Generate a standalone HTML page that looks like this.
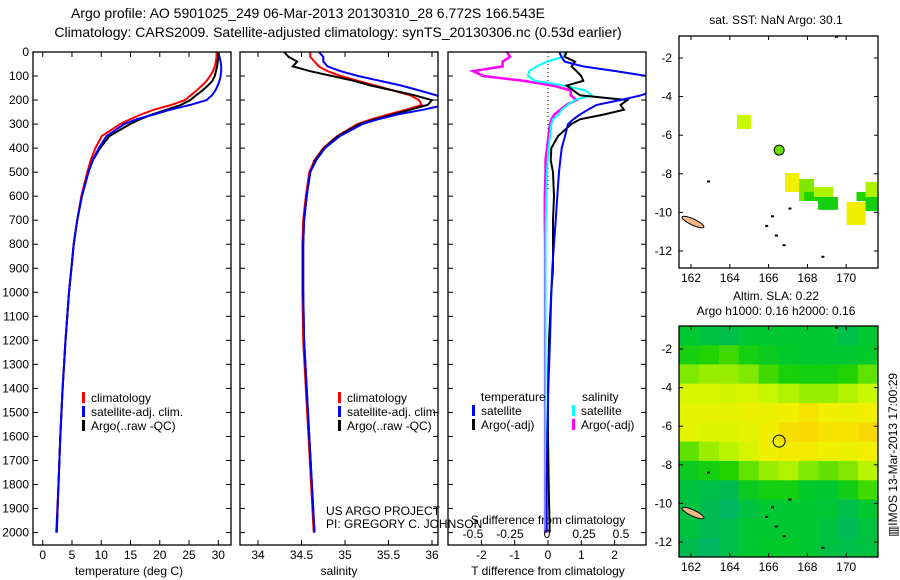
<!DOCTYPE html>
<html><head><meta charset="utf-8"><style>
html,body{margin:0;padding:0;background:#fff;width:900px;height:580px;overflow:hidden}
svg text{font-family:"Liberation Sans",sans-serif;font-size:12px;fill:#000}
</style></head><body>
<svg id="c" width="900" height="580" xmlns="http://www.w3.org/2000/svg">
<text x="308" y="18" text-anchor="middle" style="font-size:14px">Argo profile: AO 5901025_249 06-Mar-2013 20130310_28 6.772S 166.543E</text>
<text x="338" y="37" text-anchor="middle" style="font-size:14px">Climatology: CARS2009. Satellite-adjusted climatology: synTS_20130306.nc (0.53d earlier)</text>
<text x="776" y="24" text-anchor="middle">sat. SST: NaN Argo: 30.1</text>
<text x="776" y="300" text-anchor="middle">Altim. SLA: 0.22</text>
<text x="776" y="315" text-anchor="middle">Argo h1000: 0.16 h2000: 0.16</text>
<text transform="translate(897,455) rotate(-90)" text-anchor="middle">▥IMOS 13-Mar-2013 17:00:29</text>
<text x="326" y="515">US ARGO PROJECT</text>
<text x="326" y="528">PI: GREGORY C. JOHNSON</text>
<text x="129" y="575" text-anchor="middle">temperature (deg C)</text>
<text x="339" y="575" text-anchor="middle">salinity</text>
<text x="548" y="575" text-anchor="middle">T difference from climatology</text>
<text x="548" y="524" text-anchor="middle">S difference from climatology</text>
</svg>
<script>
const depths=[0,20,40,60,80,100,120,140,160,180,200,220,240,260,280,300,350,400,450,500,600,700,800,900,1000,1200,1400,1600,1800,2000];
const tempClim=[29.7,29.7,29.6,29.4,29.1,28.6,28.0,27.2,26.3,25.3,24.3,22.0,19.0,16.8,14.9,13.2,10.1,9.0,8.2,7.6,6.6,5.9,5.3,4.9,4.5,3.9,3.4,3.0,2.7,2.3];
const tempArgo=[30.0,30.0,29.9,29.8,29.6,29.4,29.0,28.2,27.3,26.2,25.2,23.6,21.2,18.7,16.6,14.9,11.4,9.8,8.6,7.8,6.7,5.9,5.3,4.9,4.5,3.9,3.4,3.0,2.7,2.4];
const tempSat=[30.0,30.2,30.4,30.5,30.5,30.4,30.2,29.9,29.5,28.9,28.0,25.2,21.8,19.0,16.0,13.9,10.9,9.6,8.5,7.8,6.7,5.9,5.3,4.9,4.5,3.9,3.4,3.0,2.7,2.4];
const salClim=[34.6,34.6,34.65,34.7,34.8,34.95,35.15,35.35,35.55,35.75,35.85,35.88,35.7,35.5,35.3,35.14,34.91,34.75,34.65,34.59,34.55,34.52,34.51,34.51,34.51,34.52,34.55,34.58,34.61,34.64];
const salArgo=[34.3,34.35,34.45,34.4,34.6,34.85,35.1,35.3,35.55,35.8,36.0,35.95,35.75,35.55,35.35,35.17,34.92,34.76,34.66,34.6,34.56,34.53,34.52,34.52,34.52,34.53,34.56,34.59,34.62,34.65];
const salSat=[34.7,34.75,34.75,34.8,34.95,35.15,35.4,35.65,35.85,36.05,36.15,36.15,35.9,35.6,35.38,35.2,34.94,34.77,34.67,34.6,34.56,34.53,34.52,34.52,34.52,34.53,34.56,34.59,34.62,34.65];
const tDiffSat=[0.34,0.4,0.5,1.05,2.06,2.96,3.5,3.5,3.2,2.8,2.16,1.46,1.2,0.96,0.76,0.6,0.51,0.41,0.37,0.33,0.28,0.23,0.18,0.13,0.1,0.06,0.01,-0.02,-0.04,-0.04];
const tDiffArgo=[0.56,0.5,0.81,0.71,0.86,1.0,1.06,0.56,0.76,0.96,2.38,2.18,2.28,1.68,0.96,0.7,0.3,0.1,0.08,0.15,0.18,0.15,0.15,0.15,0.1,0.03,0,0,0.02,0.05];
const sDiffSat=[0.12,0.11,0,-0.07,-0.12,-0.13,-0.08,0.12,0.26,0.3,0.19,0.14,0.1,0.08,0.04,0.03,0.02,0.01,0.005,0,-0.005,-0.008,-0.01,-0.01,-0.01,-0.01,-0.01,-0.01,-0.01,-0.01];
const sDiffArgo=[-0.27,-0.25,-0.3,-0.3,-0.5,-0.43,-0.16,0.04,0.16,0.16,0.2,0.13,0.09,0.05,0.03,0.02,0.01,0,-0.01,-0.01,-0.015,-0.015,-0.013,-0.013,-0.013,-0.013,-0.013,-0.013,-0.013,-0.013];
const depthTicks=[0,100,200,300,400,500,600,700,800,900,1000,1100,1200,1300,1400,1500,1600,1700,1800,1900,2000];
const tempTicks=[0,5,10,15,20,25,30];
const salTicks=[34,34.5,35,35.5,36];
const tDiffTicks=[-2,-1,0,1,2];
const sDiffTicks=[-0.5,-0.25,0,0.25,0.5];
const latTicks=[-2,-4,-6,-8,-10,-12];
const lonTicks=[162,164,166,168,170];
const sstLon0=[164.37,166.85,167.57,167.83,168.34,168.55,170.02,170.53,171.0,171.0];
const sstLon1=[165.09,167.57,168.34,168.55,169.32,169.58,171.0,171.3,171.6,171.6];
const sstLat0=[-4.95,-7.96,-8.27,-8.94,-8.68,-9.2,-9.46,-8.94,-8.42,-9.2];
const sstLat1=[-5.68,-8.94,-9.41,-9.41,-9.2,-9.87,-10.65,-9.41,-9.2,-9.93];
const sstVal=[0.65,0.8,0.5,0.35,0.6,0.3,0.8,0.35,0.6,0.3];
const slaGrid=[
[0.2,0.15,0.12,0.2,0.2,0.2,0.2,0.2,0.12,0.2],
[0.3,0.35,0.4,0.3,0.25,0.22,0.2,0.2,0.2,0.22],
[0.5,0.55,0.55,0.5,0.4,0.32,0.3,0.3,0.35,0.45],
[0.7,0.7,0.68,0.7,0.65,0.6,0.55,0.55,0.6,0.65],
[0.75,0.75,0.75,0.78,0.78,0.8,0.85,0.8,0.78,0.8],
[0.75,0.72,0.72,0.75,0.8,0.88,0.9,0.85,0.85,0.9],
[0.45,0.55,0.62,0.7,0.8,0.82,0.82,0.8,0.78,0.8],
[0.25,0.3,0.35,0.45,0.55,0.6,0.5,0.45,0.5,0.62],
[0.15,0.12,0.1,0.25,0.3,0.3,0.22,0.2,0.28,0.4],
[0.15,0.1,0.05,0.15,0.2,0.2,0.2,0.18,0.12,0.2],
[0.15,0.1,0.12,0.2,0.2,0.2,0.2,0.15,0.08,0.15],
[0.1,0.05,0.12,0.2,0.22,0.22,0.2,0.15,0.12,0.15]];
const argoLon=[166.543];
const argoLat=[-6.772];

const NS='http://www.w3.org/2000/svg';
const svg=document.getElementById('c');
function el(tag,attrs,parent){const e=document.createElementNS(NS,tag);for(const k in attrs)e.setAttribute(k,attrs[k]);(parent||svg).appendChild(e);return e;}
const yD=d=>52+d*0.2403;
const xT=t=>42.7+t*5.853;
const xS=s=>258+(s-34)*87;
const xTd=t=>548+33.3*t;
const xSd=s=>547+148*s;
const B=52,BOT=545;
let clipN=0;
function clip(x0,y0,x1,y1){const id='cl'+(clipN++);const cp=el('clipPath',{id:id});el('rect',{x:x0,y:y0,width:x1-x0,height:y1-y0},cp);return 'url(#'+id+')';}
function box(x0,y0,x1,y1,name){const r=el('rect',{x:x0,y:y0,width:x1-x0,height:y1-y0,fill:'none',stroke:'#000','stroke-width':1.3});}
function line(vals,xf,color,name,cp,w){let p='';depths.forEach((d,i)=>{p+=(i?'L':'M')+xf(vals[i]).toFixed(1)+','+yD(d).toFixed(1);});const e=el('path',{d:p,fill:'none',stroke:color,'stroke-width':w||2,'clip-path':cp});}
function depthAxis(x0,x1,labels){depthTicks.forEach(d=>{const y=yD(d);el('line',{x1:x0,y1:y,x2:x0+5,y2:y,stroke:'#000'});el('line',{x1:x1-5,y1:y,x2:x1,y2:y,stroke:'#000'});
 if(labels){const t=el('text',{x:x0-4,y:y+4,'text-anchor':'end'});t.textContent=d;}});}
function xAxis(ticks,xf,y0,y1,ly,fmt,name){ticks.forEach(v=>{const x=xf(v);el('line',{x1:x,y1:y1,x2:x,y2:y1-5,stroke:'#000'});if(y0!==null)el('line',{x1:x,y1:y0,x2:x,y2:y0+5,stroke:'#000'});
 const t=el('text',{x:x,y:ly,'text-anchor':'middle'});t.textContent=fmt?fmt(v):v;});}
function legend(x,y,color,label,name){el('rect',{x:x,y:y-10,width:3,height:11,fill:color});const t=el('text',{x:x+9,y:y});t.textContent=label;}

const c1=clip(33,B,231,BOT);
line(tempClim,xT,'#f00','temp-climatology-line',c1);
line(tempArgo,xT,'#000','temp-argo-line',c1);
line(tempSat,xT,'#00f','temp-satellite-line',c1);
box(33,B,231,BOT,'temperature-panel');
depthAxis(33,231,true);
xAxis(tempTicks,xT,B,BOT,559,null,'temperature-tick-label');
legend(82,402,'#f00','climatology','legend-climatology');
legend(82,416,'#00f','satellite-adj. clim.','legend-satellite-adj');
legend(82,430,'#000','Argo(..raw -QC)','legend-argo');

const c2=clip(240,B,438,BOT);
line(salClim,xS,'#f00','sal-climatology-line',c2);
line(salArgo,xS,'#000','sal-argo-line',c2);
line(salSat,xS,'#00f','sal-satellite-line',c2);
box(240,B,438,BOT,'salinity-panel');
depthAxis(240,438,false);
xAxis(salTicks,xS,B,BOT,559,null,'salinity-tick-label');
legend(338,402,'#f00','climatology','legend-climatology-2');
legend(338,416,'#00f','satellite-adj. clim.','legend-satellite-adj-2');
legend(338,430,'#000','Argo(..raw -QC)','legend-argo-2');

const c3=clip(448,B,646,BOT);
el('line',{x1:548,y1:B,x2:548,y2:190,stroke:'#000','stroke-dasharray':'1,3'});
line(sDiffArgo,xSd,'#f0f','s-diff-argo-line',c3,2.5);
line(sDiffSat,xSd,'#0ff','s-diff-satellite-line',c3,2);
line(tDiffArgo,xTd,'#000','t-diff-argo-line',c3,2);
line(tDiffSat,xTd,'#00f','t-diff-satellite-line',c3,2);
box(448,B,646,BOT,'difference-panel');
depthAxis(448,646,false);
xAxis(tDiffTicks,xTd,null,BOT,559,null,'t-diff-tick-label');
sDiffTicks.forEach(v=>{const t=el('text',{x:xSd(v),y:538,'text-anchor':'middle'});t.textContent=v;});
let tt=el('text',{x:481,y:401});tt.textContent='temperature';
tt=el('text',{x:582,y:401});tt.textContent='salinity';
legend(472,415,'#00f','satellite','legend-t-satellite');
legend(472,429,'#000','Argo(-adj)','legend-t-argo');
legend(572,415,'#0ff','satellite','legend-s-satellite');
legend(572,429,'#f0f','Argo(-adj)','legend-s-argo');

const MX0=679,MX1=878,LON0=161.38,LON1=171.64;
const xL=lon=>MX0+(lon-LON0)*(MX1-MX0)/(LON1-LON0);
function cmap(v){const st=[[0,[0,176,112]],[0.2,[0,200,48]],[0.35,[32,210,0]],[0.5,[128,232,0]],[0.65,[200,248,0]],[0.8,[240,240,0]],[0.9,[248,216,0]],[1,[250,190,0]]];
 for(let i=1;i<st.length;i++){if(v<=st[i][0]){const a=st[i-1],b=st[i],f=(v-a[0])/(b[0]-a[0]);return 'rgb('+a[1].map((c,j)=>Math.round(c+(b[1][j]-c)*f)).join(',')+')';}}return 'rgb(250,190,0)';}
function mapFrame(yTop,latTop){const yM=lat=>yTop+(latTop-lat)*19.3;return yM;}
function land(yM,cp){
 const e=el('ellipse',{cx:xL(162.1),cy:yM(-10.5),rx:12,ry:3,fill:'#f0b888',stroke:'#000','stroke-width':1,transform:'rotate(25 '+xL(162.1)+' '+yM(-10.5)+')','clip-path':cp});
 [[162.9,-8.4],[165.9,-10.7],[166.4,-11.2],[166.8,-11.7],[167.1,-9.8],[166.2,-10.2],[168.8,-12.3],[169.5,-0.9]].forEach(p=>{el('rect',{x:xL(p[0])-1.5,y:yM(p[1])-1,width:3,height:2,fill:'#000'});});}
function mapAxes(y0,y1,yM){box(MX0,y0,MX1,y1,'map-frame');
 latTicks.forEach(l=>{const y=yM(l);el('line',{x1:MX0,y1:y,x2:MX0+4,y2:y,stroke:'#000'});el('line',{x1:MX1-4,y1:y,x2:MX1,y2:y,stroke:'#000'});const t=el('text',{x:672,y:y+4,'text-anchor':'end'});t.textContent=l;});
 lonTicks.forEach(l=>{const x=xL(l);el('line',{x1:x,y1:y0,x2:x,y2:y0+4,stroke:'#000'});el('line',{x1:x,y1:y1-4,x2:x,y2:y1,stroke:'#000'});const t=el('text',{x:x,y:y1+14,'text-anchor':'middle'});t.textContent=l;});}

const yM1=mapFrame(58,-2);
const cm1=clip(MX0,36,MX1,268);
sstVal.forEach((v,i)=>{const r=el('rect',{x:xL(sstLon0[i]),y:yM1(sstLat0[i]),width:xL(sstLon1[i])-xL(sstLon0[i]),height:yM1(sstLat1[i])-yM1(sstLat0[i]),fill:cmap(v),'clip-path':cm1});

});
land(yM1,cm1);
let ci=el('circle',{cx:xL(argoLon[0]),cy:yM1(argoLat[0]),r:5,fill:'#6de000',stroke:'#000'});


mapAxes(36,268,yM1);

const yM2=mapFrame(349,-2);
const cm2=clip(MX0,326,MX1,557);
const cellW=(LON1-LON0)/10;
slaGrid.forEach((row,r)=>{row.forEach((v,c)=>{const lat0=-0.8-r*1.0;const rr=el('rect',{x:xL(LON0+c*cellW),y:yM2(lat0),width:xL(LON0+cellW)-MX0+0.5,height:19.8,fill:cmap(v),'clip-path':cm2});

});});
land(yM2,cm2);
ci=el('circle',{cx:xL(argoLon[0]),cy:yM2(argoLat[0]),r:6,fill:'none',stroke:'#000'});


mapAxes(326,557,yM2);
</script>
</body></html>
